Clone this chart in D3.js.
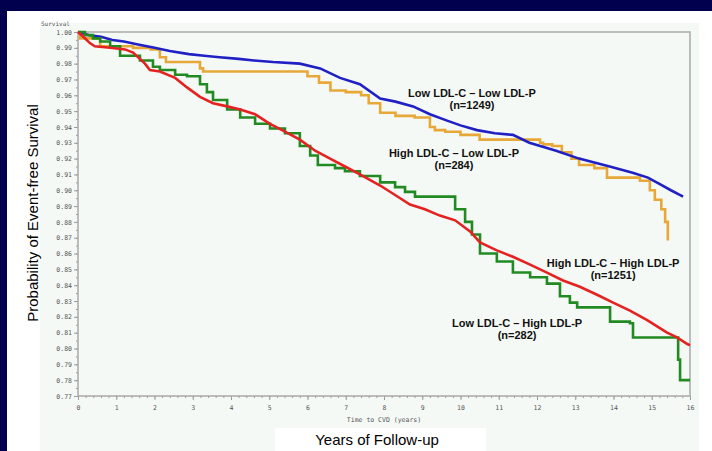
<!DOCTYPE html>
<html>
<head>
<meta charset="utf-8">
<script src="https://cdn.jsdelivr.net/npm/d3@7"></script>
<style>
  html, body { margin: 0; padding: 0; background: #00004e; }
  svg { display: block; }
</style>
</head>
<body>
<div id="chart"></div>
<script>
// survival curves, [years, survival]
const lowLowCurve = [
    [0, 1.000], [0.3, 0.998], [0.6, 0.997], [0.9, 0.995], [1.2, 0.994], [1.6, 0.992],
    [2.0, 0.990], [2.4, 0.988], [2.9, 0.986], [3.3, 0.985], [3.7, 0.984], [4.2, 0.983],
    [4.6, 0.982], [5.1, 0.981], [5.8, 0.980], [6.33, 0.977], [6.85, 0.971], [7.37, 0.967],
    [7.9, 0.958], [8.3, 0.956], [8.76, 0.953], [9.2, 0.948], [9.65, 0.944], [10.0, 0.941],
    [10.43, 0.938], [10.9, 0.936], [11.37, 0.935], [11.8, 0.930], [12.5, 0.925], [13.1, 0.920],
    [13.9, 0.915], [14.5, 0.911], [14.9, 0.908], [15.2, 0.904], [15.5, 0.900], [15.82, 0.896]
];

const highLowCurve = [
    [0, 1.000], [0.05, 0.996], [0.58, 0.991], [1.44, 0.990], [1.9, 0.989], [2.14, 0.984],
    [2.3, 0.981], [3.19, 0.977], [3.27, 0.975], [5.8, 0.975], [6.0, 0.972], [6.3, 0.968],
    [6.6, 0.963], [7.0, 0.962], [7.4, 0.960], [7.6, 0.955], [7.9, 0.949], [8.3, 0.947],
    [8.8, 0.946], [9.2, 0.940], [9.33, 0.938], [9.6, 0.937], [10.0, 0.935], [10.5, 0.932],
    [12.08, 0.930], [12.16, 0.929], [12.4, 0.928], [12.65, 0.924], [12.9, 0.920], [13.1, 0.916],
    [13.5, 0.914], [13.83, 0.908], [14.69, 0.906], [14.95, 0.900], [15.08, 0.894], [15.25, 0.888],
    [15.35, 0.880], [15.42, 0.869], [15.45, 0.869]
];

const highHighCurve = [
    [0, 1.000], [0.18, 0.996], [0.31, 0.993], [0.44, 0.991], [0.84, 0.990], [1.23, 0.989],
    [1.44, 0.987], [1.75, 0.980], [1.88, 0.976], [2.14, 0.975], [2.54, 0.971], [2.85, 0.965],
    [3.19, 0.959], [3.53, 0.955], [3.90, 0.953], [4.24, 0.951], [4.63, 0.948], [5.02, 0.942],
    [5.41, 0.937], [5.80, 0.932], [6.20, 0.925], [6.59, 0.920], [6.98, 0.915], [7.37, 0.910],
    [7.90, 0.903], [8.29, 0.897], [8.68, 0.891], [9.07, 0.888], [9.46, 0.884], [9.86, 0.881],
    [10.25, 0.874], [10.51, 0.867], [10.95, 0.862], [11.37, 0.858], [11.82, 0.853], [12.26, 0.848],
    [12.68, 0.843], [13.12, 0.839], [13.57, 0.834], [13.99, 0.829], [14.43, 0.824], [14.88, 0.818],
    [15.14, 0.814], [15.40, 0.810], [15.66, 0.807], [15.92, 0.803], [16.0, 0.802]
];

const lowHighCurve = [
    [0, 1.000], [0.18, 0.998], [0.39, 0.996], [0.58, 0.994], [0.84, 0.991], [1.10, 0.985],
    [1.62, 0.982], [1.96, 0.978], [2.14, 0.976], [2.54, 0.973], [2.85, 0.972], [3.19, 0.967],
    [3.37, 0.962], [3.53, 0.957], [3.90, 0.951], [4.24, 0.946], [4.63, 0.942], [5.02, 0.939],
    [5.41, 0.936], [5.80, 0.928], [6.07, 0.922], [6.27, 0.916], [6.72, 0.914], [6.98, 0.912],
    [7.37, 0.909], [7.90, 0.905], [8.29, 0.902], [8.55, 0.899], [8.81, 0.896], [9.73, 0.896],
    [9.86, 0.888], [10.12, 0.880], [10.30, 0.872], [10.51, 0.860], [10.95, 0.855], [11.37, 0.848],
    [11.82, 0.845], [12.26, 0.841], [12.60, 0.833], [12.86, 0.829], [13.05, 0.826], [13.83, 0.826],
    [13.91, 0.817], [14.43, 0.816], [14.51, 0.807], [15.61, 0.807], [15.69, 0.793], [15.74, 0.780],
    [16.0, 0.780]
];

const seriesNames = ["Low LDL-C \u2013 Low LDL-P", "High LDL-C \u2013 Low LDL-P",
    "High LDL-C \u2013 High LDL-P", "Low LDL-C \u2013 High LDL-P"];
const seriesCounts = ["(n=1249)", "(n=284)", "(n=1251)", "(n=282)"];
const xTicks = d3.range(0, 17);
const yTicks = d3.range(77, 101).map(d => d / 100);

/*
    Page layout
*/
const width = 712;
const height = 451;
const plot = { left: 78, right: 690, top: 32, bottom: 396 };

const svg = d3.select("#chart").append("svg")
    .attr("width", width)
    .attr("height", height);

svg.append("rect").attr("width", width).attr("height", height).attr("fill", "#00004e");
svg.append("rect").attr("x", 7).attr("y", 11).attr("width", width - 7).attr("height", height - 11).attr("fill", "#ffffff");
svg.append("rect").attr("x", 40).attr("y", 23).attr("width", 659).attr("height", height - 23).attr("fill", "#f5f9f5");

const x = d3.scaleLinear().domain([0, 16]).range([plot.left, plot.right]);
const y = d3.scaleLinear().domain([0.77, 1.0]).range([plot.bottom, plot.top]);

const tickFont = "'DejaVu Sans Mono', monospace";

// axes - major ticks with labels, minor ticks without
svg.append("g")
    .attr("transform", `translate(0,${plot.bottom})`)
    .call(d3.axisBottom(x).tickValues(xTicks).tickSize(4).tickPadding(5).tickFormat(d3.format("d")));
svg.append("g")
    .attr("transform", `translate(0,${plot.bottom})`)
    .call(d3.axisBottom(x).tickValues(d3.range(0, 80).map(d => d / 5)).tickSize(2).tickFormat(""));

svg.append("g")
    .attr("transform", `translate(${plot.left},0)`)
    .call(d3.axisLeft(y).tickValues(yTicks).tickSize(4).tickPadding(2).tickFormat(d3.format(".2f")));
svg.append("g")
    .attr("transform", `translate(${plot.left},0)`)
    .call(d3.axisLeft(y).tickValues(d3.range(154, 200).map(d => d / 200)).tickSize(2).tickFormat(""));

svg.selectAll(".domain").remove();
svg.selectAll(".tick line").attr("stroke", "#9a9a9a");
svg.selectAll(".tick text")
    .attr("font-family", tickFont)
    .attr("font-size", 6.5)
    .attr("fill", "#555");

// plot frame
svg.append("rect")
    .attr("x", plot.left)
    .attr("y", plot.top)
    .attr("width", plot.right - plot.left)
    .attr("height", plot.bottom - plot.top)
    .attr("fill", "none")
    .attr("stroke", "#a8a8a8")
    .attr("stroke-width", 1.5);

svg.append("text")
    .attr("x", 41).attr("y", 26)
    .attr("font-family", tickFont).attr("font-size", 6).attr("fill", "#555")
    .text("Survival");

svg.append("text")
    .attr("x", 384).attr("y", 422)
    .attr("text-anchor", "middle")
    .attr("font-family", tickFont).attr("font-size", 6.5).attr("fill", "#555")
    .text("Time to CVD (years)");

/*
    Curves
*/
const curves = [
    { data: lowLowCurve, color: "#2020c4", step: false },
    { data: highLowCurve, color: "#e8a838", step: true },
    { data: highHighCurve, color: "#e42222", step: false },
    { data: lowHighCurve, color: "#228a22", step: true }
];

const drawOrder = [1, 0, 3, 2];
drawOrder.forEach(i => {
    const c = curves[i];
    const line = d3.line()
        .x(d => x(d[0]))
        .y(d => y(d[1]))
        .curve(c.step ? d3.curveStepAfter : d3.curveLinear);
    svg.append("path")
        .datum(c.data)
        .attr("fill", "none")
        .attr("stroke", c.color)
        .attr("stroke-width", 2.6)
        .attr("stroke-linejoin", "miter")
        .attr("d", line);
});

// curve labels, anchored in data units
const labelAnchors = [[10.3, 0.959], [9.83, 0.921], [13.99, 0.8515], [11.48, 0.8136]];
labelAnchors.forEach((a, i) => {
    const t = svg.append("text")
        .attr("text-anchor", "middle")
        .attr("font-family", "'Liberation Sans', Arial, sans-serif")
        .attr("font-weight", "bold")
        .attr("font-size", 11)
        .attr("fill", "#111");
    t.append("tspan").attr("x", x(a[0])).attr("y", y(a[1])).text(seriesNames[i]);
    t.append("tspan").attr("x", x(a[0])).attr("dy", 12).text(seriesCounts[i]);
});

// slide titles
svg.append("text")
    .attr("transform", "translate(38,213) rotate(-90)")
    .attr("text-anchor", "middle")
    .attr("font-family", "'Liberation Sans', Arial, sans-serif")
    .attr("font-size", 15)
    .attr("fill", "#000")
    .text("Probability of Event-free Survival");

svg.append("rect")
    .attr("x", 275).attr("y", 428).attr("width", 211).attr("height", 23)
    .attr("fill", "#ffffff");
svg.append("text")
    .attr("x", 377).attr("y", 445)
    .attr("text-anchor", "middle")
    .attr("font-family", "'Liberation Sans', Arial, sans-serif")
    .attr("font-size", 15)
    .attr("fill", "#000")
    .text("Years of Follow-up");
</script>
</body>
</html>
